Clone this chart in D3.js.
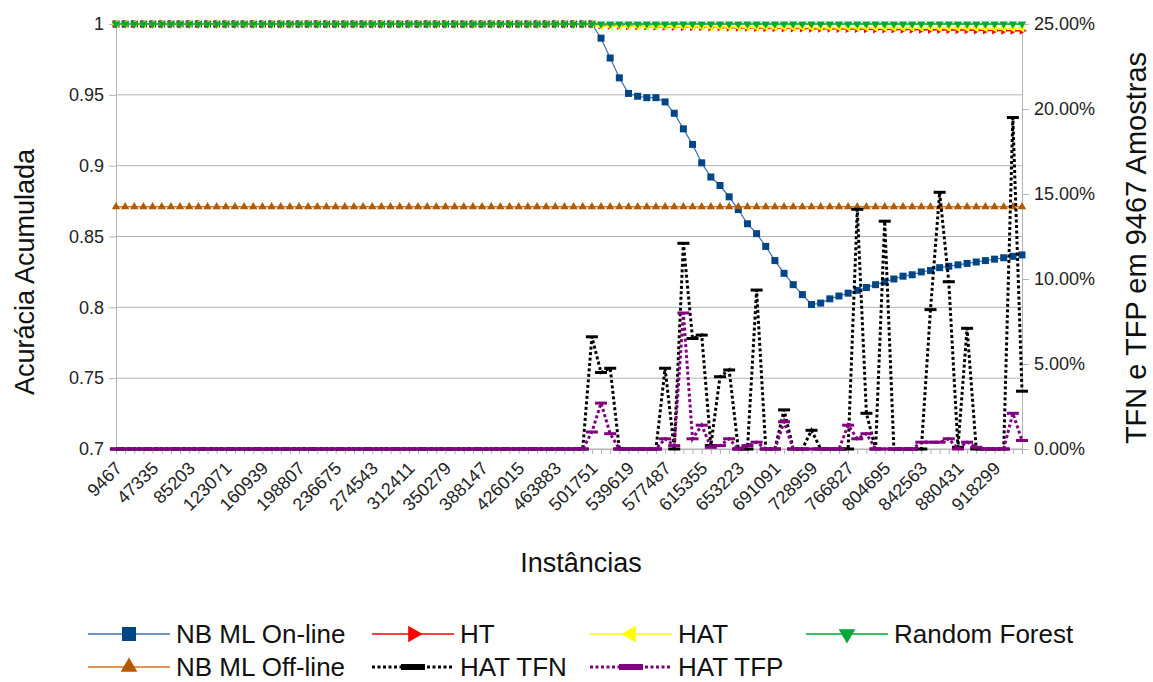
<!DOCTYPE html>
<html>
<head>
<meta charset="utf-8">
<script src="https://cdn.jsdelivr.net/npm/d3@7"></script>
<style>
  body { margin: 0; background: #fff; }
  svg { font-family: "Liberation Sans", Arial, sans-serif; }
</style>
</head>
<body>
<svg width="1153" height="682"></svg>
<script>
// categories: instance counts, one point every 9467 samples
let categories = d3.range(1, 101).map(function(k) { return k * 9467; });

// only every fourth category gets a label
let tickLabels = [9467, 47335, 85203, 123071, 160939, 198807, 236675, 274543,
  312411, 350279, 388147, 426015, 463883, 501751, 539619, 577487, 615355,
  653223, 691091, 728959, 766827, 804695, 842563, 880431, 918299];

let leftTicks = [0.7, 0.75, 0.8, 0.85, 0.9, 0.95, 1];
let rightTicks = [0, 5, 10, 15, 20, 25];

// accumulated accuracy (left axis)
let nbOnline = [
  1, 1, 1, 1, 1, 1, 1, 1, 1, 1,
  1, 1, 1, 1, 1, 1, 1, 1, 1, 1,
  1, 1, 1, 1, 1, 1, 1, 1, 1, 1,
  1, 1, 1, 1, 1, 1, 1, 1, 1, 1,
  1, 1, 1, 1, 1, 1, 1, 1, 1, 1,
  1, 1, 1, 0.990, 0.976, 0.962, 0.951, 0.949, 0.948, 0.948,
  0.945, 0.937, 0.926, 0.915, 0.902, 0.892, 0.886, 0.878, 0.869, 0.859,
  0.852, 0.843, 0.833, 0.824, 0.816, 0.809, 0.802, 0.803, 0.806, 0.808,
  0.810, 0.812, 0.814, 0.816, 0.818, 0.820, 0.822, 0.823, 0.825, 0.826,
  0.828, 0.829, 0.830, 0.831, 0.832, 0.833, 0.834, 0.835, 0.836, 0.837
];

let ht = [
  1, 1, 1, 1, 1, 1, 1, 1, 1, 1,
  1, 1, 1, 1, 1, 1, 1, 1, 1, 1,
  1, 1, 1, 1, 1, 1, 1, 1, 1, 1,
  1, 1, 1, 1, 1, 1, 1, 1, 1, 1,
  1, 1, 1, 1, 1, 1, 1, 1, 1, 1,
  1, 1, 1, 0.9990, 0.9988, 0.9987, 0.9985, 0.9984, 0.9983, 0.9982,
  0.9981, 0.9980, 0.9979, 0.9978, 0.9978, 0.9977, 0.9976, 0.9975, 0.9974, 0.9974,
  0.9973, 0.9972, 0.9971, 0.9970, 0.9970, 0.9969, 0.9968, 0.9967, 0.9967, 0.9966,
  0.9965, 0.9965, 0.9964, 0.9963, 0.9963, 0.9962, 0.9961, 0.9961, 0.9960, 0.9959,
  0.9959, 0.9958, 0.9957, 0.9957, 0.9956, 0.9955, 0.9955, 0.9954, 0.9953, 0.9953
];

let hat = [
  1, 1, 1, 1, 1, 1, 1, 1, 1, 1,
  1, 1, 1, 1, 1, 1, 1, 1, 1, 1,
  1, 1, 1, 1, 1, 1, 1, 1, 1, 1,
  1, 1, 1, 1, 1, 1, 1, 1, 1, 1,
  1, 1, 1, 1, 1, 1, 1, 1, 1, 1,
  1, 1, 1, 0.9986, 0.9985, 0.9984, 0.9984, 0.9983, 0.9983, 0.9982,
  0.9982, 0.9981, 0.9981, 0.9980, 0.9980, 0.9979, 0.9979, 0.9978, 0.9978, 0.9977,
  0.9977, 0.9977, 0.9976, 0.9976, 0.9975, 0.9975, 0.9975, 0.9974, 0.9974, 0.9974,
  0.9973, 0.9973, 0.9973, 0.9972, 0.9972, 0.9972, 0.9971, 0.9971, 0.9971, 0.9971,
  0.9970, 0.9970, 0.9970, 0.9970, 0.9969, 0.9969, 0.9969, 0.9969, 0.9968, 0.9968
];

let randomForest = [
  1, 1, 1, 1, 1, 1, 1, 1, 1, 1,
  1, 1, 1, 1, 1, 1, 1, 1, 1, 1,
  1, 1, 1, 1, 1, 1, 1, 1, 1, 1,
  1, 1, 1, 1, 1, 1, 1, 1, 1, 1,
  1, 1, 1, 1, 1, 1, 1, 1, 1, 1,
  1, 1, 1, 1, 1, 1, 1, 1, 1, 1,
  1, 1, 1, 1, 1, 1, 1, 1, 1, 1,
  1, 1, 1, 1, 1, 1, 1, 1, 1, 1,
  1, 1, 1, 1, 1, 1, 1, 1, 1, 1,
  1, 1, 1, 1, 1, 1, 1, 1, 1, 1
];

let nbOffline = [
  0.871, 0.871, 0.871, 0.871, 0.871, 0.871, 0.871, 0.871, 0.871, 0.871,
  0.871, 0.871, 0.871, 0.871, 0.871, 0.871, 0.871, 0.871, 0.871, 0.871,
  0.871, 0.871, 0.871, 0.871, 0.871, 0.871, 0.871, 0.871, 0.871, 0.871,
  0.871, 0.871, 0.871, 0.871, 0.871, 0.871, 0.871, 0.871, 0.871, 0.871,
  0.871, 0.871, 0.871, 0.871, 0.871, 0.871, 0.871, 0.871, 0.871, 0.871,
  0.871, 0.871, 0.871, 0.871, 0.871, 0.871, 0.871, 0.871, 0.871, 0.871,
  0.871, 0.871, 0.871, 0.871, 0.871, 0.871, 0.871, 0.871, 0.871, 0.871,
  0.871, 0.871, 0.871, 0.871, 0.871, 0.871, 0.871, 0.871, 0.871, 0.871,
  0.871, 0.871, 0.871, 0.871, 0.871, 0.871, 0.871, 0.871, 0.871, 0.871,
  0.871, 0.871, 0.871, 0.871, 0.871, 0.871, 0.871, 0.871, 0.871, 0.871
];

// false negative / false positive rates in percent (right axis)
let hatTFN = [
  0, 0, 0, 0, 0, 0, 0, 0, 0, 0,
  0, 0, 0, 0, 0, 0, 0, 0, 0, 0,
  0, 0, 0, 0, 0, 0, 0, 0, 0, 0,
  0, 0, 0, 0, 0, 0, 0, 0, 0, 0,
  0, 0, 0, 0, 0, 0, 0, 0, 0, 0,
  0, 0, 6.6, 4.5, 4.75, 0, 0, 0, 0, 0,
  4.75, 0, 12.1, 6.5, 6.7, 0.2, 4.25, 4.65, 0, 0,
  9.35, 0, 0, 2.3, 0, 0, 1.1, 0, 0, 0,
  0, 14.1, 2.1, 0, 13.4, 0, 0, 0, 0, 8.2,
  15.1, 9.84, 0.1, 7.1, 0, 0, 0, 0, 19.5, 3.4
];

let hatTFP = [
  0, 0, 0, 0, 0, 0, 0, 0, 0, 0,
  0, 0, 0, 0, 0, 0, 0, 0, 0, 0,
  0, 0, 0, 0, 0, 0, 0, 0, 0, 0,
  0, 0, 0, 0, 0, 0, 0, 0, 0, 0,
  0, 0, 0, 0, 0, 0, 0, 0, 0, 0,
  0, 0, 1.0, 2.7, 0.9, 0, 0, 0, 0, 0,
  0.6, 0.2, 8.0, 0.6, 1.4, 0.1, 0.2, 0.6, 0, 0.2,
  0.4, 0, 0, 1.6, 0, 0, 0, 0, 0, 0,
  1.4, 0.6, 0.9, 0, 0, 0, 0, 0, 0.4, 0.4,
  0.4, 0.6, 0, 0.4, 0.1, 0, 0, 0, 2.1, 0.5
];

let svg = d3.select("body").select("svg");

// plot area bounds
let margin = { top: 24, right: 131, bottom: 233, left: 116 };
let width = 1153, height = 682;
let plotWidth = width - margin.left - margin.right;
let plotHeight = height - margin.top - margin.bottom;

let xScale = d3.scalePoint()
  .domain(categories)
  .range([0, plotWidth]);

let yLeft = d3.scaleLinear().domain([0.7, 1]).range([plotHeight, 0]);
let yRight = d3.scaleLinear().domain([0, 25]).range([plotHeight, 0]);

let plot = svg.append("g")
  .attr("transform", "translate(" + margin.left + "," + margin.top + ")");

let gridColor = "#b3b3b3";

// horizontal grid lines
plot.append("g")
  .selectAll("line")
  .data(leftTicks)
  .enter().append("line")
  .attr("x1", 0).attr("x2", plotWidth)
  .attr("y1", function(d) { return yLeft(d); })
  .attr("y2", function(d) { return yLeft(d); })
  .attr("stroke", gridColor);

// left axis
let yAxisL = plot.append("g").call(
  d3.axisLeft(yLeft).tickValues(leftTicks).tickSize(7).tickPadding(5)
    .tickFormat(function(d) { return String(d); })
);
// right axis
let yAxisR = plot.append("g")
  .attr("transform", "translate(" + plotWidth + ",0)")
  .call(d3.axisRight(yRight).tickValues(rightTicks).tickSize(7).tickPadding(5)
    .tickFormat(function(d) { return d.toFixed(2) + "%"; }));

// x axis, a tick for every category but only some labels
let labelSet = new Set(tickLabels);
let xAxis = plot.append("g")
  .attr("transform", "translate(0," + plotHeight + ")")
  .call(d3.axisBottom(xScale).tickValues(categories).tickSize(5)
    .tickFormat(function(d) { return labelSet.has(d) ? d : ""; }));

[yAxisL, yAxisR, xAxis].forEach(function(ax) {
  ax.select(".domain").attr("stroke", gridColor);
  ax.selectAll(".tick line").attr("stroke", gridColor);
  ax.selectAll("text").attr("font-size", 18).attr("fill", "#222")
    .attr("font-family", "Liberation Sans, Arial, sans-serif");
});

xAxis.selectAll("text")
  .attr("text-anchor", "end")
  .attr("transform", "translate(2,16) rotate(-45)")
  .attr("dy", "0.35em")
  .attr("y", 0);

// series definitions, in legend order
let series = [
  { name: "NB ML On-line", values: nbOnline, y: yLeft, line: "#3a6fb0", width: 1.2,
    fill: "#004586", symbol: "square" },
  { name: "HT", values: ht, y: yLeft, line: "#ff0000", width: 1.5,
    fill: "#ff0000", symbol: "triangle", rotate: 90 },
  { name: "HAT", values: hat, y: yLeft, line: "#ffff00", width: 1.5,
    fill: "#ffff00", symbol: "triangle", rotate: -90 },
  { name: "Random Forest", values: randomForest, y: yLeft, line: "#00a933", width: 1.5,
    fill: "#00a933", symbol: "triangle", rotate: 180 },
  { name: "NB ML Off-line", values: nbOffline, y: yLeft, line: "#d9731a", width: 1.5,
    fill: "#b35a00", symbol: "triangle", rotate: 0 },
  { name: "HAT TFN", values: hatTFN, y: yRight, line: "#000000", width: 3,
    fill: "#000000", symbol: "bar", dash: "3,2.5" },
  { name: "HAT TFP", values: hatTFP, y: yRight, line: "#800080", width: 3,
    fill: "#800080", symbol: "bar", dash: "3,2.5" }
];

let drawMarker = function(g, s, scale) {
  if (s.symbol === "bar") {
    g.append("rect")
      .attr("x", -6 * scale).attr("y", -1.5 * scale)
      .attr("width", 12 * scale).attr("height", 3 * scale)
      .attr("fill", s.fill);
  } else if (s.symbol === "square") {
    g.append("path")
      .attr("d", d3.symbol(d3.symbolSquare, 49 * scale * scale)())
      .attr("fill", s.fill);
  } else {
    g.append("path")
      .attr("d", d3.symbol(d3.symbolTriangle, 30 * scale * scale)())
      .attr("transform", "rotate(" + s.rotate + ")")
      .attr("fill", s.fill);
  }
};

series.forEach(function(s) {
  let g = plot.append("g");
  let line = d3.line()
    .x(function(d, i) { return xScale(categories[i]); })
    .y(function(d) { return s.y(d); });

  g.append("path")
    .datum(s.values)
    .attr("d", line)
    .attr("fill", "none")
    .attr("stroke", s.line)
    .attr("stroke-width", s.width)
    .attr("stroke-dasharray", s.dash || null);

  g.selectAll("g.pt")
    .data(s.values)
    .enter().append("g")
    .attr("class", "pt")
    .attr("transform", function(d, i) {
      return "translate(" + xScale(categories[i]) + "," + s.y(d) + ")";
    })
    .each(function() { drawMarker(d3.select(this), s, 1); });
});

// axis titles
svg.append("text")
  .attr("transform", "translate(34,272) rotate(-90)")
  .attr("text-anchor", "middle")
  .attr("font-size", 27)
  .attr("fill", "#111")
  .text("Acurácia Acumulada");

svg.append("text")
  .attr("transform", "translate(1146,248) rotate(-90)")
  .attr("text-anchor", "middle")
  .attr("font-size", 29)
  .attr("fill", "#111")
  .text("TFN e TFP em 9467 Amostras");

svg.append("text")
  .attr("x", 581).attr("y", 572)
  .attr("text-anchor", "middle")
  .attr("font-size", 27)
  .attr("fill", "#111")
  .text("Instâncias");

// legend, two rows
let legendPos = [
  [88, 634], [372, 634], [590, 634], [806, 634],
  [88, 667], [372, 667], [590, 667]
];

series.forEach(function(s, i) {
  let lg = svg.append("g")
    .attr("transform", "translate(" + legendPos[i][0] + "," + legendPos[i][1] + ")");
  lg.append("line")
    .attr("x1", 0).attr("x2", 82)
    .attr("stroke", s.line)
    .attr("stroke-width", s.symbol === "bar" ? 3 : 1.5)
    .attr("stroke-dasharray", s.dash || null);
  let m = lg.append("g").attr("transform", "translate(41,0)");
  drawMarker(m, s, 2);
  lg.append("text")
    .attr("x", 88).attr("y", 0)
    .attr("dy", "0.35em")
    .attr("font-size", 26)
    .attr("fill", "#111")
    .text(s.name);
});
</script>
</body>
</html>
